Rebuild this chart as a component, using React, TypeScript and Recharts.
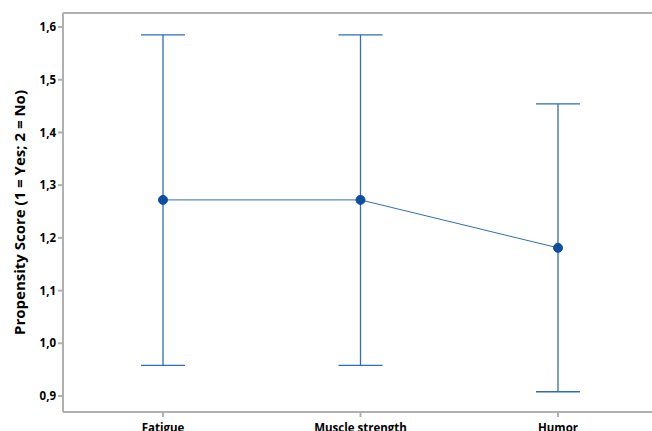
import React from 'react';
import { LineChart, Line, XAxis, YAxis, ErrorBar, ReferenceLine } from 'recharts';

const categories = ['Fatigue', 'Muscle strength', 'Humor'];
const means = [1.272, 1.272, 1.181];
const lowers = [0.958, 0.958, 0.908];
const uppers = [1.585, 1.585, 1.454];
const yTicks = [0.9, 1.0, 1.1, 1.2, 1.3, 1.4, 1.5, 1.6];
const yDomain = [0.8696, 1.6266];

const data = categories.map((name, i) => ({
    name,
    mean: means[i],
    err: [means[i] - lowers[i], uppers[i] - means[i]]
}));

const axisGray = '#b0b0b0';
const blue = '#2f6db5';
const font = '"Open Sans", "Noto Sans", sans-serif';

const fmt = (v: number) => v.toFixed(1).replace('.', ',');

export default function App() {
    return (
        <div style={{ position: 'absolute', left: 0, top: 0, width: 652, height: 431, background: '#fff' }}>
            <LineChart width={652} height={431} data={data} margin={{ top: 13, right: 0, left: 0, bottom: 0 }}>
                <XAxis
                    dataKey="name"
                    scale="point"
                    padding={{ left: 100, right: 94 }}
                    height={19}
                    stroke={axisGray}
                    strokeWidth={2}
                    tickSize={5}
                    tickMargin={7}
                    tick={{ fontSize: 11.5, fontWeight: 700, fill: '#000', fontFamily: font }}
                />
                <YAxis
                    type="number"
                    domain={yDomain}
                    ticks={yTicks}
                    allowDataOverflow
                    width={63}
                    stroke={axisGray}
                    strokeWidth={2}
                    tickSize={5}
                    tickMargin={2}
                    tickFormatter={fmt}
                    tick={{ fontSize: 11.5, fontWeight: 700, fill: '#000', fontFamily: font }}
                    label={{
                        value: 'Propensity Score (1 = Yes; 2 = No)',
                        angle: -90,
                        position: 'insideLeft',
                        offset: 0,
                        dx: 20,
                        style: { fontSize: 15, fontWeight: 700, fill: '#000', fontFamily: font, textAnchor: 'middle' }
                    }}
                />
                <ReferenceLine y={yDomain[1]} stroke={axisGray} strokeWidth={2} />
                <Line
                    dataKey="mean"
                    type="linear"
                    stroke={blue}
                    strokeWidth={1}
                    dot={{ r: 4.5, fill: '#0b4ea2', stroke: '#0b4ea2', strokeWidth: 1 }}
                    activeDot={false}
                    isAnimationActive={false}
                >
                    <ErrorBar dataKey="err" width={22} stroke={blue} strokeWidth={1.3} />
                </Line>
            </LineChart>
        </div>
    );
}
